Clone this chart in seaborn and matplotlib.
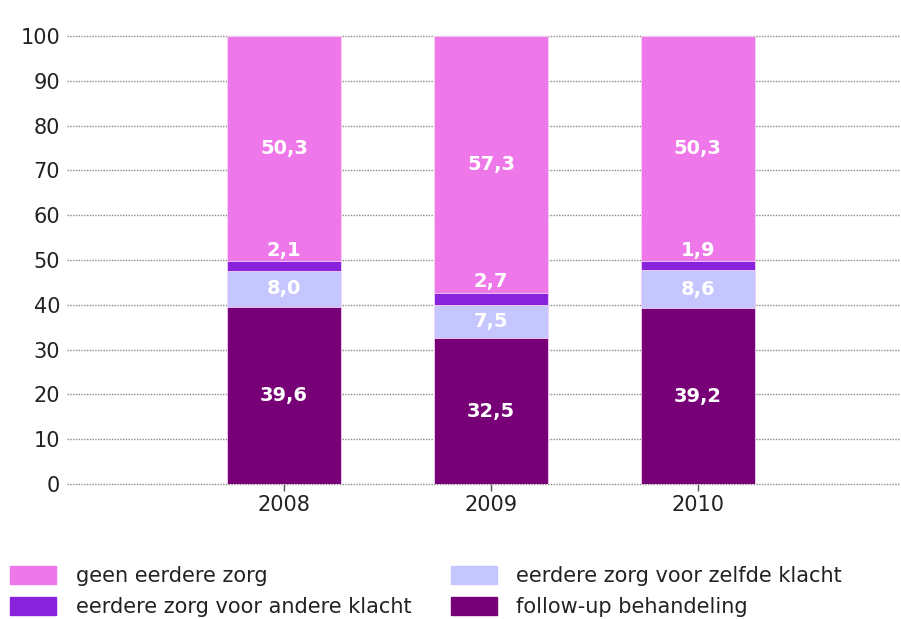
import pandas as pd
import matplotlib
matplotlib.use("Agg")
import matplotlib.pyplot as plt
import seaborn as sns
from matplotlib.patches import Patch

# data (percent)
years = ["2008", "2009", "2010"]
follow_up = [39.6, 32.5, 39.2]        # follow-up behandeling
zelfde = [8.0, 7.5, 8.6]              # eerdere zorg voor zelfde klacht
andere = [2.1, 2.7, 1.9]              # eerdere zorg voor andere klacht
geen = [50.3, 57.3, 50.3]             # geen eerdere zorg

labels = ["geen eerdere zorg", "eerdere zorg voor andere klacht",
          "eerdere zorg voor zelfde klacht", "follow-up behandeling"]
colors = {"geen": "#EE77E9", "andere": "#8822DD", "zelfde": "#C6C6FF", "follow": "#770077"}

df = pd.DataFrame({"year": years, "follow": follow_up, "zelfde": zelfde,
                   "andere": andere, "geen": geen})
df["c1"] = df["follow"]
df["c2"] = df["c1"] + df["zelfde"]
df["c3"] = df["c2"] + df["andere"]
df["c4"] = df["c3"] + df["geen"]

sns.set_theme(style="white")
plt.rcParams['font.family'] = ['DejaVu Sans']

fig = plt.figure(figsize=(9.01, 6.19), dpi=100)
ax = fig.add_axes([0.0744, 0.2181, 0.925, 0.7237])

# stacked bars: draw cumulative totals from the top down
W = 0.55
for col, c in [("c4", "geen"), ("c3", "andere"), ("c2", "zelfde"), ("c1", "follow")]:
    sns.barplot(data=df, x="year", y=col, color=colors[c], width=W, saturation=1,
                edgecolor="#F4D4F4", linewidth=0.6, ax=ax)

# value labels
def fmt(v):
    return f"{v:.1f}".replace(".", ",")

for i in range(len(years)):
    r = df.iloc[i]
    kw = dict(ha="center", va="center", color="white", fontsize=14, fontweight="bold")
    ax.text(i, r["c1"] / 2, fmt(r["follow"]), **kw)
    ax.text(i, (r["c1"] + r["c2"]) / 2, fmt(r["zelfde"]), **kw)
    ax.text(i, r["c3"] + 2.4, fmt(r["andere"]), **kw)
    ax.text(i, (r["c3"] + r["c4"]) / 2, fmt(r["geen"]), **kw)

ax.set_ylim(0, 100)
ax.set_xlim(-1.05, 2.98)
ax.set_yticks(range(0, 101, 10))
ax.yaxis.grid(True, linestyle=(0, (1, 1)), color="#888888", linewidth=1)
for gl in ax.get_ygridlines():
    gl.set_clip_on(False)
ax.set_axisbelow(True)
for s in ax.spines.values():
    s.set_visible(False)
ax.set_xlabel("")
ax.set_ylabel("")
ax.tick_params(axis="y", length=0, pad=5, labelsize=15, labelcolor="#222222")
ax.tick_params(axis="x", length=5, width=1, color="#555555", bottom=True,
               pad=3, labelsize=15, labelcolor="#222222")

# legend
handles = [Patch(color=colors["geen"]), Patch(color=colors["andere"]),
           Patch(color=colors["zelfde"]), Patch(color=colors["follow"])]
fig.legend(handles, labels, loc="upper left", bbox_to_anchor=(0.011, 0.086),
           ncol=2, frameon=False, fontsize=15, handlelength=2.2, handleheight=1.0,
           handletextpad=0.95, columnspacing=1.9, labelspacing=0.5,
           borderpad=0, borderaxespad=0, labelcolor="#222222")

plt.savefig("out.png", dpi=100)
plt.close()
